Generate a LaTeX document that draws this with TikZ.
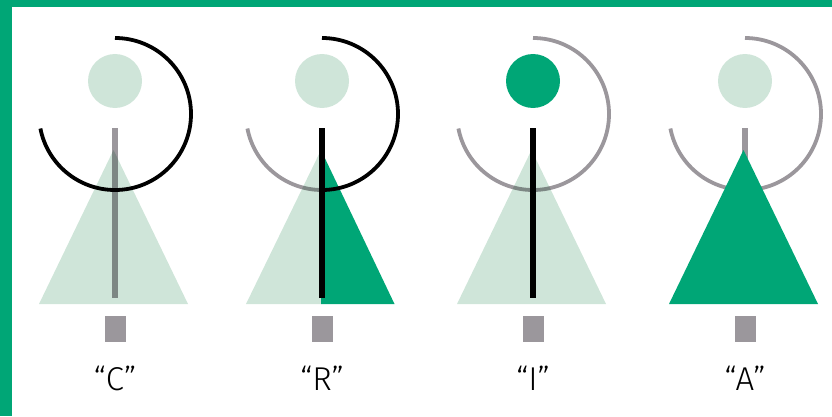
\documentclass[tikz,border=0pt]{standalone}
\usepackage{fontspec}
\newfontfamily\lblfont{Fira Sans}[UprightFont=* Light]
\definecolor{verde}{RGB}{0,166,118}
\definecolor{verdeclaro}{RGB}{207,229,217}
\definecolor{gris}{RGB}{155,151,156}
\begin{document}
\begin{tikzpicture}[x=1pt, y=1pt,
    head/.style={fill=verdeclaro},
    stick/.style={line width=6.5pt},
    ring/.style={line width=3.8pt},
    basebox/.style={fill=gris},
    lbl/.style={font=\lblfont\fontsize{33}{36}\selectfont, inner sep=0pt}]
    \useasboundingbox (0,0) rectangle (832,416);

    % 0. Marco verde
    \fill[verde] (0,0) rectangle (12,416);
    \fill[verde] (0,409) rectangle (832,416);

    % 1. Figura "C"
    \fill[head] (115,335) circle (27);
    \draw[stick, gris] (115,288) -- (115,118);
    \draw[ring, black] (115,378) arc[start angle=90, end angle=-169, radius=76];
    \begin{scope}[blend mode=multiply]
        \fill[verdeclaro] (39,112) -- (113.5,266) -- (188,112) -- cycle;
    \end{scope}
    \fill[basebox] (105,74) rectangle (126,100);
    \node[lbl] (labC) at (115,38) {“C”};

    % 2. Figura "R"
    \fill[head] (322,335) circle (27);
    \draw[ring, gris] (322,226) arc[start angle=-90, end angle=-169, radius=76];
    \begin{scope}[blend mode=multiply]
        \fill[verdeclaro] (246,112) -- (321,266) -- (321,112) -- cycle;
    \end{scope}
    \fill[verde] (321,112) -- (321,266) -- (394.5,112) -- cycle;
    \draw[ring, black] (322,378) arc[start angle=90, end angle=-90, radius=76];
    \draw[stick, black] (322,288) -- (322,118);
    \fill[basebox] (311.5,74) rectangle (332.5,100);
    \node[lbl] (labR) at (322,38) {“R”};

    % 3. Figura "I"
    \fill[verde] (533,335) circle (27);
    \draw[ring, gris] (533,378) arc[start angle=90, end angle=-169, radius=76];
    \begin{scope}[blend mode=multiply]
        \fill[verdeclaro] (457,112) -- (531.5,266) -- (606,112) -- cycle;
    \end{scope}
    \draw[stick, black] (533,288) -- (533,118);
    \fill[basebox] (522.5,74) rectangle (543.5,100);
    \node[lbl] (labI) at (533,38) {“I”};

    % 4. Figura "A"
    \fill[head] (745,335) circle (27);
    \draw[stick, gris] (745,288) -- (745,118);
    \draw[ring, gris] (745,378) arc[start angle=90, end angle=-169, radius=76];
    \fill[verde] (669,112) -- (743.5,266) -- (818,112) -- cycle;
    \fill[basebox] (734.5,74) rectangle (755.5,100);
    \node[lbl] (labA) at (745,38) {“A”};
\end{tikzpicture}
\end{document}
